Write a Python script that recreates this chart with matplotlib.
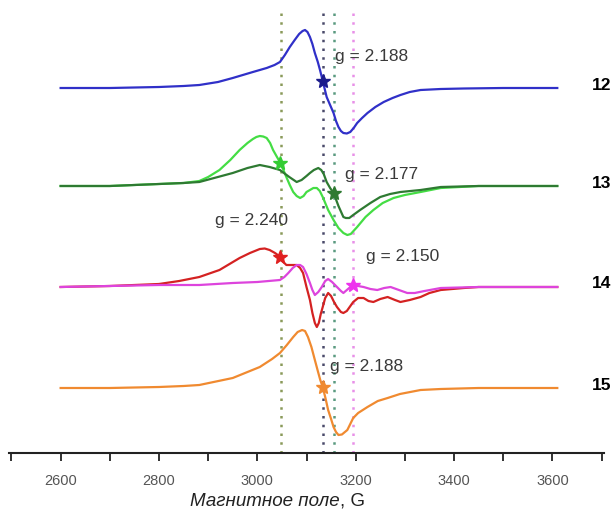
import numpy as np
import matplotlib.pyplot as plt
from matplotlib.ticker import MultipleLocator

# field (G) and intensity (a.u.)
field_12 = [2600, 2700, 2750, 2800, 2850, 2882, 2920, 2950, 2991, 3019, 3035, 3046, 3056, 3066, 3076,
            3085, 3092, 3097, 3102, 3107, 3112, 3117, 3123, 3128, 3133, 3141, 3148, 3155, 3160, 3165,
            3170, 3175, 3182, 3189, 3196, 3203, 3213, 3224, 3240, 3257, 3275, 3291, 3310, 3332, 3373,
            3420, 3500, 3610]
int_12 = [0, 0, 0.5, 1, 2, 3, 6, 10, 16, 20, 23, 26, 33, 41, 48,
          54, 57, 58, 56, 51, 44, 35, 26, 17, 7, -9, -17, -25, -33, -39,
          -43, -45, -45.5, -44, -40, -35, -30, -25, -19, -14, -10, -7, -4, -2, -1,
          -0.5, 0, 0]

field_13a = [2600, 2700, 2800, 2850, 2882, 2900, 2923, 2945, 2964, 2980, 2991, 2998, 3005, 3012, 3019,
             3026, 3032, 3040, 3047, 3053, 3059, 3066, 3073, 3080, 3087, 3094, 3100, 3107, 3114, 3121,
             3127, 3133, 3144, 3155, 3165, 3175, 3183, 3190, 3203, 3220, 3236, 3255, 3277, 3300, 3332,
             3373, 3450, 3610]
int_13a = [0, 0, 2, 3, 5, 9, 16, 26, 36, 43, 47, 49, 50, 49.5, 48,
           43, 36, 29, 23, 16, 9, 1, -6, -10, -12, -10, -6, -4, -2, -2,
           -5, -11, -24, -34, -42, -47, -49, -48, -41, -31, -24, -17, -12, -9, -6,
           -2, 0, 0]

field_13b = [2600, 2700, 2800, 2850, 2882, 2950, 2980, 3005, 3025, 3046, 3065, 3080, 3090, 3100, 3107,
             3115, 3124, 3130, 3135, 3141, 3148, 3155, 3165, 3175, 3180, 3187, 3195, 3209, 3230, 3250,
             3270, 3291, 3332, 3373, 3450, 3610]
int_13b = [0, 0, 2, 3, 4, 13, 18, 21, 19, 16, 9, 4, 6, 10, 13,
           16, 18, 16, 12, 4, -2, -7, -20, -31, -32, -32, -29, -24, -17, -11,
           -8, -6, -4, -1, 0, 0]

field_14a = [2600, 2700, 2750, 2800, 2841, 2882, 2923, 2964, 2985, 3005, 3015, 3025, 3036, 3047, 3053,
             3059, 3070, 3080, 3087, 3093, 3100, 3107, 3112, 3117, 3121, 3125, 3129, 3133, 3138, 3144,
             3150, 3156, 3162, 3170, 3175, 3182, 3195, 3205, 3216, 3226, 3236, 3250, 3265, 3280, 3291,
             3310, 3332, 3350, 3373, 3420, 3450, 3610]
int_14a = [0, 1, 2, 3, 6, 10, 17, 29, 34, 38, 38.5, 37, 34, 30, 25,
           22, 22, 22, 19, 14, 0, -13, -26, -36, -40, -36, -27, -20, -11, -6,
           -9, -15, -20, -25, -26, -24, -15, -11, -11, -14, -15, -12, -10, -13, -15,
           -13, -10, -6, -3, -1, 0, 0]

field_14b = [2600, 2700, 2800, 2882, 2950, 3000, 3046, 3055, 3063, 3072, 3080, 3087, 3093, 3100, 3107,
             3112, 3117, 3124, 3131, 3138, 3144, 3152, 3162, 3170, 3175, 3182, 3194, 3205, 3216, 3230,
             3244, 3258, 3271, 3288, 3305, 3320, 3340, 3373, 3450, 3610]
int_14b = [0, 1, 2, 2, 4, 5, 7, 10, 14, 19, 22, 22, 20, 13, 4,
           -3, -8, -5, 0, 6, 8, 5, 0, -4, -6, -3, 2, 1, 0, -2,
           -3, -1, 0, -3, -6, -6, -4, -1, 0, 0]

field_15 = [2600, 2700, 2800, 2850, 2882, 2950, 3005, 3030, 3046, 3060, 3073, 3082, 3091, 3097, 3103,
            3110, 3117, 3123, 3128, 3133, 3139, 3144, 3150, 3155, 3160, 3165, 3172, 3183, 3189, 3195,
            3205, 3224, 3245, 3265, 3290, 3332, 3373, 3450, 3610]
int_15 = [0, 0, 1, 2, 3, 10, 21, 29, 35, 43, 51, 56, 58, 57, 51,
          41, 28, 17, 8, 1, -11, -22, -31, -39, -44, -47, -46.5, -42, -36, -30,
          -25, -19, -13, -10, -6, -2, -1, 0, 0]

# g-factor positions (G)
g_lines = [3048, 3133, 3155, 3194]
g_line_colors = ['#8a9a5a', '#4a4a6a', '#5a9a80', '#e890e8']

sample_ids = ['12', '13', '14', '15']
baselines = [365, 267, 166, 65]

spectra = [
    (field_12, int_12, 0, '#3030c8', 3133, '#1c1c8c'),
    (field_13a, int_13a, 1, '#44dd44', 3047, '#33cc33'),
    (field_13b, int_13b, 1, '#2e7a32', 3155, '#2e7a32'),
    (field_14a, int_14a, 2, '#d42222', 3047, '#e02020'),
    (field_14b, int_14b, 2, '#dd44dd', 3194, '#ee33ee'),
    (field_15, int_15, 3, '#f08a30', 3133, '#f08a30'),
]

g_labels = [('g = 2.188', 3158, 396), ('g = 2.177', 3179, 278), ('g = 2.240', 2913, 233),
            ('g = 2.150', 3222, 197), ('g = 2.188', 3148, 86)]

fig = plt.figure(figsize=(6.15, 5.14), dpi=100)
ax = fig.add_axes([9 / 615, 61 / 514, 595 / 615, 453 / 514])
ax.set_xlim(2495, 3705)
ax.set_ylim(0, 453)

for x in range(len(g_lines)):
    ax.vlines(g_lines[x], 0, 445, colors=g_line_colors[x], linestyles=(0, (1, 2.5)), linewidth=1.8)

for fx, iy, k, col, star_x, star_col in spectra:
    y = np.array(iy) + baselines[k]
    ax.plot(fx, y, color=col, lw=1.6, zorder=3, solid_joinstyle='round')
    ax.plot(star_x, np.interp(star_x, fx, y), marker='*', ms=10, color=star_col, zorder=4)

for txt, x, y in g_labels:
    ax.text(x, y, txt, fontsize=12.5, color='#3a3a3a', family='Liberation Sans', va='center', ha='left')

for k in range(len(sample_ids)):
    ax.text(3700, baselines[k] + 3, sample_ids[k], fontsize=12.5, fontweight='bold', family='Liberation Sans',
            ha='center', va='center', clip_on=False)

for s in ['left', 'right', 'top']:
    ax.spines[s].set_visible(False)
ax.spines['bottom'].set_linewidth(1.5)
ax.spines['bottom'].set_color('#222222')
ax.set_yticks([])
ax.xaxis.set_major_locator(MultipleLocator(200))
ax.xaxis.set_minor_locator(MultipleLocator(100))
ax.set_xticks(range(2600, 3601, 200))
ax.tick_params(axis='x', which='both', direction='out', length=6, width=1.3, color='#222222',
               labelsize=10.5, labelcolor='#555555', pad=9)
for lab in ax.get_xticklabels():
    lab.set_family(['Liberation Sans Narrow', 'Liberation Sans'])

lbl = ax.text(0.43, -0.106, 'Магнитное поле', transform=ax.transAxes, fontsize=13.5, style='italic',
              family='Liberation Sans', color='#222222', ha='center', va='center')
ax.annotate(', G', xy=(1, 0), xycoords=lbl, va='bottom', ha='left', fontsize=13.5,
            family='Liberation Sans', color='#222222')

fig.savefig('out.png', dpi=100)
